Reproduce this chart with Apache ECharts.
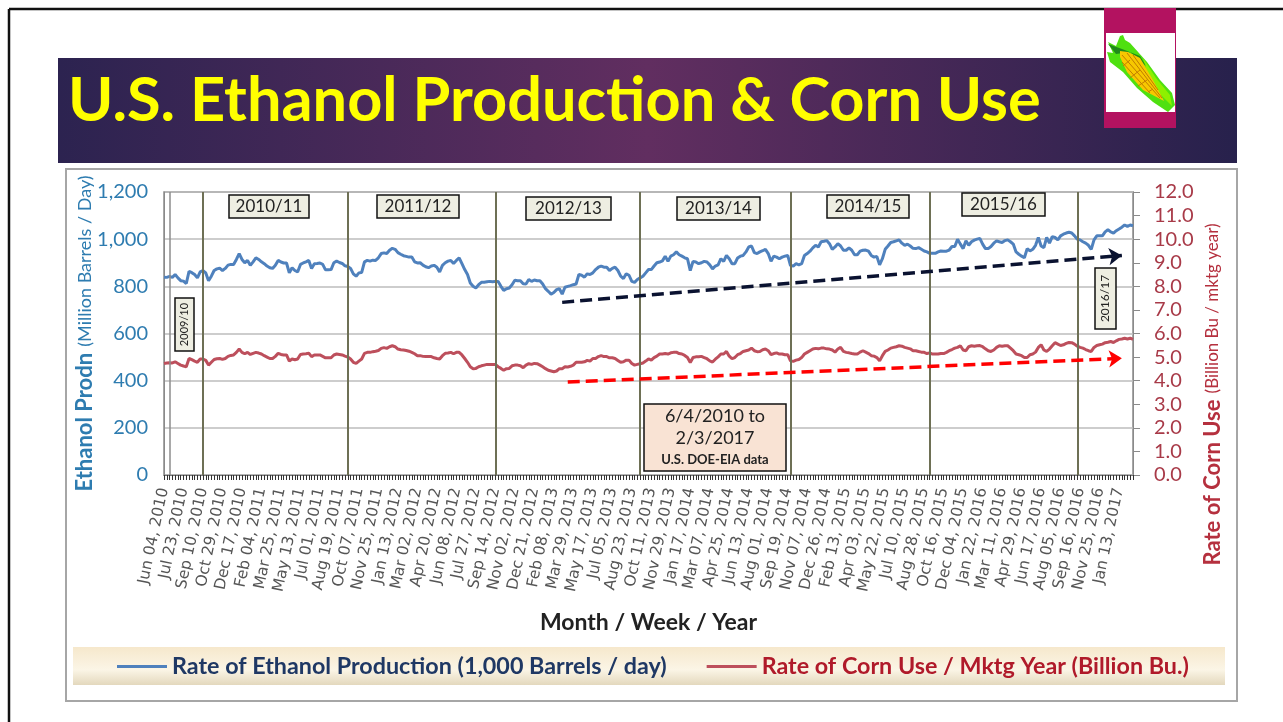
<!DOCTYPE html>
<html>
<head>
	<meta charset="utf-8">
	<title>U.S. Ethanol Production & Corn Use</title>
	<script src="https://cdn.jsdelivr.net/npm/echarts@6/dist/echarts.min.js"></script>
	<style type="text/css">
		* {
			margin: 0;
			padding: 0;
		}

		body {
			background: #fff;
			overflow: hidden;
		}

		#main {
			width: 1283px;
			height: 722px;
		}
	</style>
</head>
<body>
<div id="main"></div>
<script type="text/javascript">
    // tick labels, one every 7 weeks
    var tickLabels = ['Jun 04, 2010', 'Jul 23, 2010', 'Sep 10, 2010', 'Oct 29, 2010', 'Dec 17, 2010', 'Feb 04, 2011', 'Mar 25, 2011', 'May 13, 2011', 'Jul 01, 2011', 'Aug 19, 2011',
        'Oct 07, 2011', 'Nov 25, 2011', 'Jan 13, 2012', 'Mar 02, 2012', 'Apr 20, 2012', 'Jun 08, 2012', 'Jul 27, 2012', 'Sep 14, 2012', 'Nov 02, 2012', 'Dec 21, 2012',
        'Feb 08, 2013', 'Mar 29, 2013', 'May 17, 2013', 'Jul 05, 2013', 'Aug 23, 2013', 'Oct 11, 2013', 'Nov 29, 2013', 'Jan 17, 2014', 'Mar 07, 2014', 'Apr 25, 2014',
        'Jun 13, 2014', 'Aug 01, 2014', 'Sep 19, 2014', 'Nov 07, 2014', 'Dec 26, 2014', 'Feb 13, 2015', 'Apr 03, 2015', 'May 22, 2015', 'Jul 10, 2015', 'Aug 28, 2015',
        'Oct 16, 2015', 'Dec 04, 2015', 'Jan 22, 2016', 'Mar 11, 2016', 'Apr 29, 2016', 'Jun 17, 2016', 'Aug 05, 2016', 'Sep 16, 2016', 'Nov 25, 2016', 'Jan 13, 2017'];

    // weekly readings, 1,000 barrels / day
    var ethanol = [839, 838, 842, 838, 850, 836, 824, 822, 812, 864, 858, 850, 836, 861, 867, 857, 824, 843, 867, 874,
        877, 867, 876, 890, 893, 893, 914, 939, 914, 900, 910, 889, 904, 921, 914, 904, 896, 886, 879, 876,
        889, 910, 903, 899, 899, 857, 879, 867, 861, 893, 899, 904, 910, 876, 896, 897, 899, 893, 870, 870,
        871, 900, 907, 901, 897, 887, 884, 876, 853, 843, 857, 859, 904, 910, 907, 911, 910, 921, 939, 942,
        939, 953, 961, 957, 943, 936, 930, 927, 924, 924, 904, 899, 900, 890, 883, 879, 886, 889, 881, 861,
        889, 900, 907, 910, 897, 910, 921, 896, 871, 850, 814, 800, 793, 807, 817, 817, 819, 821, 819, 821,
        821, 800, 783, 790, 793, 807, 826, 824, 824, 811, 810, 829, 821, 827, 824, 824, 810, 790, 779, 767,
        774, 786, 790, 767, 796, 800, 803, 807, 810, 850, 847, 839, 853, 850, 857, 871, 881, 886, 881, 881,
        867, 876, 881, 867, 843, 833, 853, 847, 821, 817, 829, 836, 843, 857, 871, 871, 886, 900, 903, 908,
        928, 906, 928, 934, 946, 934, 928, 921, 917, 867, 906, 903, 896, 900, 906, 903, 891, 874, 886, 891,
        917, 906, 931, 917, 896, 896, 920, 928, 931, 946, 967, 971, 943, 939, 946, 951, 957, 939, 906, 928,
        924, 917, 924, 928, 931, 888, 886, 896, 891, 896, 931, 939, 949, 963, 974, 967, 989, 991, 994, 981,
        957, 967, 981, 971, 953, 953, 963, 953, 934, 934, 949, 953, 954, 949, 931, 924, 927, 891, 917, 957,
        971, 986, 989, 993, 997, 983, 974, 979, 971, 961, 960, 964, 957, 950, 946, 940, 940, 940, 946, 950,
        949, 949, 954, 969, 969, 1000, 979, 960, 993, 974, 989, 996, 1000, 1003, 979, 960, 960, 969, 983, 993,
        989, 986, 994, 997, 989, 979, 946, 936, 928, 921, 960, 950, 957, 974, 1007, 971, 964, 1007, 983, 1011,
        1007, 997, 1014, 1021, 1026, 1029, 1026, 1014, 1000, 997, 989, 983, 974, 957, 997, 1014, 1014, 1014, 1031, 1040,
        1031, 1026, 1036, 1043, 1051, 1060, 1054, 1060, 1057];

    // weekly readings, billion bushels per marketing year
    var cornUse = [4.73, 4.75, 4.76, 4.75, 4.80, 4.73, 4.66, 4.62, 4.59, 4.94, 4.89, 4.83, 4.78, 4.92, 4.92, 4.86, 4.66, 4.78, 4.90, 4.93,
        4.94, 4.90, 4.94, 5.03, 5.07, 5.09, 5.20, 5.34, 5.20, 5.14, 5.20, 5.11, 5.16, 5.20, 5.17, 5.13, 5.06, 5.00, 4.94, 4.94,
        5.03, 5.16, 5.11, 5.09, 5.09, 4.83, 4.92, 4.89, 4.92, 5.11, 5.13, 5.14, 5.16, 5.02, 5.09, 5.09, 5.09, 5.03, 4.97, 4.97,
        4.97, 5.09, 5.13, 5.11, 5.09, 5.04, 5.00, 4.92, 4.78, 4.73, 4.83, 4.92, 5.16, 5.20, 5.20, 5.23, 5.25, 5.28, 5.37, 5.40,
        5.37, 5.44, 5.48, 5.44, 5.34, 5.31, 5.30, 5.28, 5.25, 5.20, 5.14, 5.06, 5.06, 5.03, 5.02, 5.02, 5.02, 4.97, 4.94, 4.92,
        5.06, 5.16, 5.17, 5.20, 5.14, 5.20, 5.20, 5.09, 4.94, 4.78, 4.59, 4.51, 4.52, 4.59, 4.63, 4.66, 4.69, 4.69, 4.69, 4.69,
        4.59, 4.52, 4.44, 4.51, 4.52, 4.63, 4.66, 4.66, 4.63, 4.55, 4.66, 4.72, 4.69, 4.73, 4.72, 4.66, 4.59, 4.51, 4.44, 4.41,
        4.38, 4.41, 4.51, 4.51, 4.59, 4.58, 4.61, 4.66, 4.78, 4.78, 4.78, 4.80, 4.86, 4.83, 4.94, 4.94, 5.02, 5.06, 5.02, 5.02,
        4.97, 4.97, 4.94, 4.86, 4.78, 4.80, 4.87, 4.87, 4.73, 4.66, 4.69, 4.72, 4.75, 4.83, 4.92, 4.87, 4.98, 5.04, 5.13, 5.13,
        5.15, 5.13, 5.18, 5.20, 5.21, 5.15, 5.13, 5.07, 4.98, 4.77, 4.98, 5.01, 5.01, 5.03, 4.98, 4.93, 4.84, 4.79, 4.91, 5.01,
        5.13, 5.13, 5.24, 5.04, 4.93, 4.98, 5.10, 5.15, 5.24, 5.27, 5.30, 5.38, 5.27, 5.23, 5.24, 5.31, 5.34, 5.27, 5.10, 5.15,
        5.18, 5.13, 5.13, 5.10, 5.10, 4.84, 4.82, 4.87, 4.90, 4.98, 5.13, 5.20, 5.27, 5.34, 5.37, 5.35, 5.38, 5.38, 5.35, 5.34,
        5.30, 5.21, 5.34, 5.41, 5.24, 5.20, 5.18, 5.15, 5.13, 5.13, 5.21, 5.27, 5.21, 5.15, 5.06, 5.04, 4.98, 4.84, 5.06, 5.24,
        5.30, 5.38, 5.41, 5.44, 5.48, 5.46, 5.41, 5.38, 5.35, 5.27, 5.27, 5.24, 5.21, 5.20, 5.15, 5.18, 5.13, 5.13, 5.13, 5.15,
        5.15, 5.20, 5.27, 5.32, 5.38, 5.41, 5.48, 5.30, 5.27, 5.44, 5.48, 5.46, 5.48, 5.49, 5.44, 5.35, 5.27, 5.24, 5.30, 5.41,
        5.48, 5.46, 5.48, 5.48, 5.38, 5.27, 5.13, 5.10, 5.06, 4.98, 4.98, 5.10, 5.13, 5.21, 5.41, 5.52, 5.30, 5.24, 5.34, 5.48,
        5.61, 5.55, 5.49, 5.52, 5.58, 5.62, 5.61, 5.55, 5.46, 5.41, 5.38, 5.32, 5.27, 5.24, 5.41, 5.49, 5.52, 5.55, 5.61, 5.63,
        5.66, 5.62, 5.69, 5.75, 5.77, 5.80, 5.77, 5.80, 5.75];

    // week index of the marketing year dividers
    var yearStarts = [2, 14, 66, 119, 171, 225, 275, 328];
    // hand drawn trend arrows: [week, value]
    var ethanolTrend = [[143, 732], [344, 931]];
    var cornTrend = [[145, 3.94], [344, 4.95]];

    var yearBoxes = [
        ['2010/11', 229, 195, 80, 23], ['2011/12', 377, 195, 82, 23], ['2012/13', 526, 197, 85, 23],
        ['2013/14', 677, 197, 83, 23], ['2014/15', 827, 195, 82, 23], ['2015/16', 962, 193, 83, 23]
    ];

    var blue = '#4f81bd';
    var red = '#bd4f5c';
    var fontName = 'Lato';

    var categories = ethanol.map(function (v, i) {
        return i % 7 === 0 ? tickLabels[i / 7] : 'week ' + i;
    });

    function rect(x, y, w, h, fill, stroke, lw, z) {
        return {
            type: 'rect', silent: true, z: z,
            shape: {x: x, y: y, width: w, height: h},
            style: {fill: fill, stroke: stroke, lineWidth: lw}
        };
    }

    function label(x, y, text, size, weight, rotation) {
        return {
            type: 'text', silent: true, z: 21, x: x, y: y, rotation: rotation || 0,
            style: {
                text: text, fill: '#222', align: 'center', verticalAlign: 'middle',
                fontFamily: fontName, fontSize: size, fontWeight: weight
            }
        };
    }

    function poly(points, fill, z) {
        return {type: 'polygon', silent: true, z: z, shape: {points: points}, style: {fill: fill}};
    }

    function cobLine(x1, y1, x2, y2) {
        return {type: 'line', silent: true, z: 35, shape: {x1: x1, y1: y1, x2: x2, y2: y2}, style: {stroke: '#c07c00', lineWidth: 1}};
    }

    var graphics = [
        // slide frame
        {type: 'line', silent: true, z: -2, shape: {x1: 9, y1: 9, x2: 1283, y2: 9}, style: {stroke: '#111', lineWidth: 2.5}},
        {type: 'line', silent: true, z: -2, shape: {x1: 9, y1: 9, x2: 9, y2: 722}, style: {stroke: '#111', lineWidth: 2.5}},
        // banner
        {
            type: 'rect', silent: true, z: -1,
            shape: {x: 58, y: 58, width: 1179, height: 105},
            style: {
                fill: new echarts.graphic.LinearGradient(0, 0, 1, 0, [
                    {offset: 0, color: '#2c2350'},
                    {offset: 0.5, color: '#612e60'},
                    {offset: 1, color: '#27214c'}
                ])
            }
        },
        // chart panel and legend strip
        rect(66, 169, 1171, 532, '#fff', '#a6a6a6', 2, -1),
        {
            type: 'rect', silent: true, z: -1,
            shape: {x: 73, y: 647, width: 1152, height: 38},
            style: {
                fill: new echarts.graphic.LinearGradient(0, 0, 0, 1, [
                    {offset: 0, color: '#f6e8cc'},
                    {offset: 0.6, color: '#fbf5e6'},
                    {offset: 1, color: '#e3d8bd'}
                ])
            }
        },
        // corn badge
        rect(1104, 8, 72, 120, '#b31260', null, 0, 30),
        rect(1106, 33, 69, 79, '#fff', null, 0, 31),
        poly([[1123, 35], [1125, 40], [1130, 43], [1147, 62], [1160, 80], [1172, 93], [1175, 105], [1168, 112], [1153, 102], [1137, 88], [1123, 72], [1110, 62], [1107, 52], [1113, 53], [1108, 42], [1116, 46], [1120, 36]], '#4fe010', 32),
        poly([[1143, 58], [1156, 78], [1170, 95], [1172, 106], [1158, 92], [1148, 76]], '#8ef000', 33),
        poly([[1108, 44], [1122, 49], [1140, 56], [1146, 66], [1130, 52], [1116, 54]], '#1f8a1a', 33),
        poly([[1120, 51], [1128, 52], [1140, 58], [1153, 80], [1164, 101], [1143, 90], [1127, 72], [1120, 57]], '#f7c800', 34),
        cobLine(1122, 55, 1160, 98),
        cobLine(1127, 53, 1162, 98),
        cobLine(1122, 62, 1150, 93),
        cobLine(1133, 55, 1158, 90),
        cobLine(1130, 60, 1123, 66),
        cobLine(1140, 70, 1130, 78),
        cobLine(1147, 80, 1138, 86),
        cobLine(1153, 89, 1148, 92),
        // season boxes that stand on end
        rect(175, 298, 19, 53, '#eeeee2', '#111', 1.5, 20),
        label(184.5, 324.5, '2009/10', 11, 'normal', Math.PI / 2),
        rect(1095, 268, 21, 61, '#eeeee2', '#111', 1.5, 20),
        label(1105.5, 298.5, '2016/17', 12, 'normal', Math.PI / 2),
        // date range note
        rect(644, 404, 142, 67, '#f9e3d4', '#111', 1.5, 20),
        label(715, 416, '6/4/2010 to', 18, 'normal'),
        label(715, 438, '2/3/2017', 18, 'normal'),
        label(715, 460, 'U.S. DOE-EIA data', 13, 'bold')
    ];

    yearBoxes.forEach(function (b) {
        graphics.push(rect(b[1], b[2], b[3], b[4], '#eeeee2', '#111', 1.5, 20));
        graphics.push(label(b[1] + b[3] / 2, b[2] + b[4] / 2, b[0], 17, 'normal'));
    });

    var dividers = yearStarts.map(function (w, i) {
        return {xAxis: w, lineStyle: {color: i === 0 ? '#8c8c8c' : '#6e7055', width: i === 0 ? 1.5 : 2, type: 'solid'}};
    });

    function arrow(pts, color) {
        return [
            {xAxis: pts[0][0], yAxis: pts[0][1], symbol: 'none', lineStyle: {color: color, width: 3.5, type: [12, 6]}},
            {xAxis: pts[1][0], yAxis: pts[1][1], symbol: 'arrow', symbolSize: 13, lineStyle: {color: color, width: 3.5, type: [12, 6]}}
        ];
    }

    var myChart = echarts.init(document.getElementById('main'));
    var option = {
        animation: false,
        backgroundColor: '#fff',
        textStyle: {fontFamily: fontName},
        title: {
            text: 'U.S. Ethanol Production & Corn Use',
            left: 63,
            top: 66,
            textStyle: {color: '#ffff00', fontSize: 61.3, fontWeight: 'bold', fontFamily: fontName}
        },
        grid: {
            show: true,
            left: 164,
            right: 150,
            top: 192,
            bottom: 247,
            borderColor: '#8a8a8a',
            borderWidth: 1.5
        },
        legend: {
            left: 112,
            top: 650,
            icon: 'rect',
            itemWidth: 50,
            itemHeight: 3,
            itemGap: 40,
            selectedMode: false,
            data: [
                {name: 'Rate of Ethanol Production (1,000 Barrels / day)', textStyle: {color: '#1f3864'}},
                {name: 'Rate of Corn Use / Mktg Year (Billion Bu.)', textStyle: {color: '#b01a2a'}}
            ],
            textStyle: {fontSize: 23.3, fontWeight: 'bold', fontFamily: fontName}
        },
        xAxis: {
            type: 'category',
            data: categories,
            boundaryGap: false,
            name: 'Month / Week / Year',
            nameLocation: 'middle',
            nameGap: 136,
            nameTextStyle: {color: '#222', fontSize: 23, fontWeight: 'bold'},
            splitLine: {show: false},
            axisLine: {lineStyle: {color: '#777'}},
            axisTick: {
                show: true,
                interval: 0,
                length: 5,
                lineStyle: {color: '#333', width: 1, opacity: 1}
            },
            axisLabel: {
                interval: function (i) {
                    return i % 7 === 0;
                },
                rotate: 78,
                margin: 13,
                color: '#555',
                fontSize: 15.5,
                fontFamily: 'DejaVu Sans',
                hideOverlap: false
            }
        },
        yAxis: [{
            type: 'value',
            min: 0,
            max: 1200,
            interval: 200,
            name: '{a|Ethanol Prodn}  {b|(Million Barrels / Day)}',
            nameLocation: 'middle',
            nameRotate: 90,
            nameGap: 68,
            nameMoveOverlap: false,
            nameTextStyle: {
                rich: {
                    a: {color: '#2e7cb0', fontSize: 22, fontWeight: 'bold', fontFamily: fontName},
                    b: {color: '#2e7cb0', fontSize: 18, fontFamily: fontName}
                }
            },
            splitLine: {show: true, lineStyle: {color: '#bdbdbd', width: 1.5}},
            axisLine: {show: true, lineStyle: {color: '#8a8a8a'}},
            axisTick: {show: false},
            axisLabel: {
                margin: 16,
                color: '#2e7cb0',
                fontSize: 20,
                formatter: function (v) {
                    return v >= 1000 ? '1,' + String(v).slice(1) : v;
                }
            }
        }, {
            type: 'value',
            position: 'right',
            min: 0,
            max: 12,
            interval: 1,
            name: '{a|Rate of Corn Use}  {b|(Billion Bu / mktg year)}',
            nameLocation: 'middle',
            nameRotate: 90,
            nameGap: 69,
            nameMoveOverlap: false,
            nameTextStyle: {
                padding: [0, 122, 0, 0],
                rich: {
                    a: {color: '#b5303e', fontSize: 22, fontWeight: 'bold', fontFamily: fontName},
                    b: {color: '#b5303e', fontSize: 17, fontFamily: fontName}
                }
            },
            splitLine: {show: false},
            axisLine: {show: true, lineStyle: {color: '#8a8a8a'}},
            axisTick: {show: true, length: 7, lineStyle: {color: '#8a8a8a'}},
            axisLabel: {
                margin: 21,
                color: '#a83a48',
                fontSize: 20,
                formatter: function (v) {
                    return v.toFixed(1);
                }
            }
        }],
        series: [
            {
                name: 'Rate of Ethanol Production (1,000 Barrels / day)',
                type: 'line',
                symbol: 'none',
                data: ethanol,
                lineStyle: {color: blue, width: 3},
                itemStyle: {color: blue},
                markLine: {
                    silent: true,
                    symbol: 'none',
                    label: {show: false},
                    data: dividers.concat([arrow(ethanolTrend, '#0a1230')])
                }
            },
            {
                name: 'Rate of Corn Use / Mktg Year (Billion Bu.)',
                type: 'line',
                yAxisIndex: 1,
                symbol: 'none',
                data: cornUse,
                lineStyle: {color: red, width: 3},
                itemStyle: {color: red},
                markLine: {
                    silent: true,
                    symbol: 'none',
                    label: {show: false},
                    data: [arrow(cornTrend, '#ff0000')]
                }
            }
        ],
        graphic: {elements: graphics}
    };
    myChart.setOption(option);
</script>
</body>
</html>
